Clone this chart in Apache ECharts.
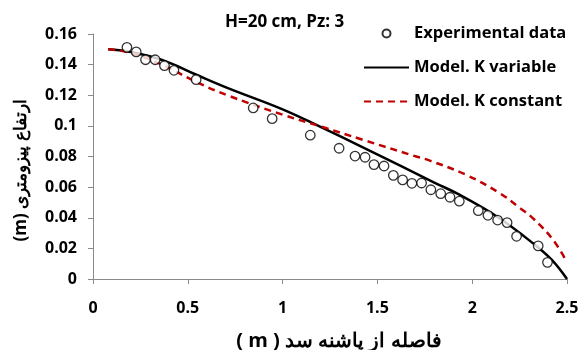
<!DOCTYPE html>
<html>
<head>
<meta charset="utf-8">
<script src="https://cdn.jsdelivr.net/npm/echarts@6/dist/echarts.min.js"></script>
<style>html,body{margin:0;padding:0;background:#fff}#c{width:580px;height:350px}</style>
</head>
<body>
<div id="c"></div>
<script>
// Experimental data
var expX = [0.179, 0.228, 0.277, 0.328, 0.377, 0.427, 0.544, 0.845, 0.945, 1.146, 1.298, 1.382, 1.435, 1.482, 1.535, 1.584, 1.633, 1.682, 1.733, 1.782, 1.834, 1.883, 1.932, 2.032, 2.083, 2.134, 2.184, 2.234, 2.348, 2.397];
var expY = [0.1513, 0.1483, 0.1432, 0.1432, 0.1393, 0.1363, 0.1302, 0.1117, 0.1047, 0.0939, 0.0854, 0.0803, 0.0795, 0.0747, 0.0738, 0.0677, 0.0647, 0.0625, 0.0627, 0.0583, 0.0557, 0.0534, 0.0508, 0.0446, 0.0416, 0.0385, 0.0368, 0.0279, 0.0216, 0.0109];
// Model, K variable
var varX = [0.08, 0.188, 0.364, 0.539, 0.715, 1.0, 1.2, 1.426, 1.62, 1.8, 1.935, 2.134, 2.321, 2.42, 2.5];
var varY = [0.150, 0.1485, 0.143, 0.1337, 0.1245, 0.1108, 0.0993, 0.0858, 0.0740, 0.0630, 0.0549, 0.0405, 0.0233, 0.0125, 0.0];
// Model, K constant
var conX = [0.08, 0.188, 0.364, 0.539, 0.715, 1.0, 1.2, 1.426, 1.689, 1.777, 1.97, 2.146, 2.25, 2.321, 2.427, 2.497];
var conY = [0.150, 0.148, 0.140, 0.129, 0.1197, 0.1073, 0.0997, 0.0908, 0.0806, 0.0773, 0.0679, 0.056, 0.0465, 0.0396, 0.0255, 0.0115];
var xTicks = [0, 0.5, 1, 1.5, 2, 2.5];
var yTicks = [0, 0.02, 0.04, 0.06, 0.08, 0.1, 0.12, 0.14, 0.16];
var seriesNames = ['Experimental data', 'Model. K variable', 'Model. K constant'];
var titleText = 'H=20 cm, Pz: 3';
var xName = '( m ) فاصله از پاشنه سد';
var yName = '(m) ارتفاع پیزومتری';

function pairs(xs, ys) { return xs.map(function (x, i) { return [x, ys[i]]; }); }
var FONT = 'Open Sans';
var chart = echarts.init(document.getElementById('c'), null, { renderer: 'canvas' });
chart.setOption({
  animation: false,
  backgroundColor: '#fff',
  title: {
    text: titleText, left: 220, top: 9,
    textStyle: { fontFamily: FONT, fontWeight: 'bold', fontSize: 17, color: '#000' }
  },
  legend: {
    orient: 'vertical', left: 358, top: 20,
    itemWidth: 45, itemHeight: 8, itemGap: 17,
    textStyle: { fontFamily: FONT, fontWeight: 'bold', fontSize: 16.5, color: '#000', lineHeight: 16 },
    data: [
      { name: seriesNames[0] },
      { name: seriesNames[1], itemStyle: { opacity: 0 } },
      { name: seriesNames[2], itemStyle: { opacity: 0 } }
    ]
  },
  grid: { left: 93, right: 13, top: 34, bottom: 71, containLabel: false, outerBoundsMode: 'none' },
  xAxis: {
    type: 'value', min: xTicks[0], max: xTicks[xTicks.length - 1], interval: 0.5,
    name: xName, nameLocation: 'middle', nameGap: 52,
    nameTextStyle: { fontFamily: FONT, fontWeight: 'bold', fontSize: 20, color: '#000', padding: [0, 0, 0, 18] },
    axisLine: { lineStyle: { color: '#898989', width: 1 } },
    axisTick: { show: true, length: 5, lineStyle: { color: '#898989' } },
    splitLine: { show: false },
    axisLabel: { margin: 21, fontFamily: FONT, fontWeight: 'bold', fontSize: 16, color: '#000' }
  },
  yAxis: {
    type: 'value', min: yTicks[0], max: yTicks[yTicks.length - 1], interval: 0.02,
    name: yName, nameLocation: 'middle', nameGap: 63, nameRotate: 90,
    nameTextStyle: { fontFamily: FONT, fontWeight: 'bold', fontSize: 17, color: '#000', padding: [0, 28, 0, 0] },
    axisLine: { show: true, lineStyle: { color: '#898989', width: 1 } },
    axisTick: { show: true, length: 5, lineStyle: { color: '#898989' } },
    splitLine: { show: false },
    axisLabel: { margin: 16, fontFamily: FONT, fontWeight: 'bold', fontSize: 16, color: '#000' }
  },
  series: [
    {
      name: seriesNames[0], type: 'scatter', data: pairs(expX, expY),
      symbol: 'circle', symbolSize: 9.5, z: 5,
      itemStyle: { color: '#fff', borderColor: '#000', borderWidth: 1.3 }
    },
    {
      name: seriesNames[1], type: 'line', data: pairs(varX, varY),
      smooth: 0.4, symbol: 'none', showSymbol: false,
      lineStyle: { color: '#000', width: 2.5, type: 'solid' },
      itemStyle: { color: '#000' }
    },
    {
      name: seriesNames[2], type: 'line', data: pairs(conX, conY),
      smooth: 0.4, symbol: 'none', showSymbol: false,
      lineStyle: { color: '#c00000', width: 2.5, type: [7, 5] },
      itemStyle: { color: '#c00000' }
    }
  ]
});
</script>
</body>
</html>
